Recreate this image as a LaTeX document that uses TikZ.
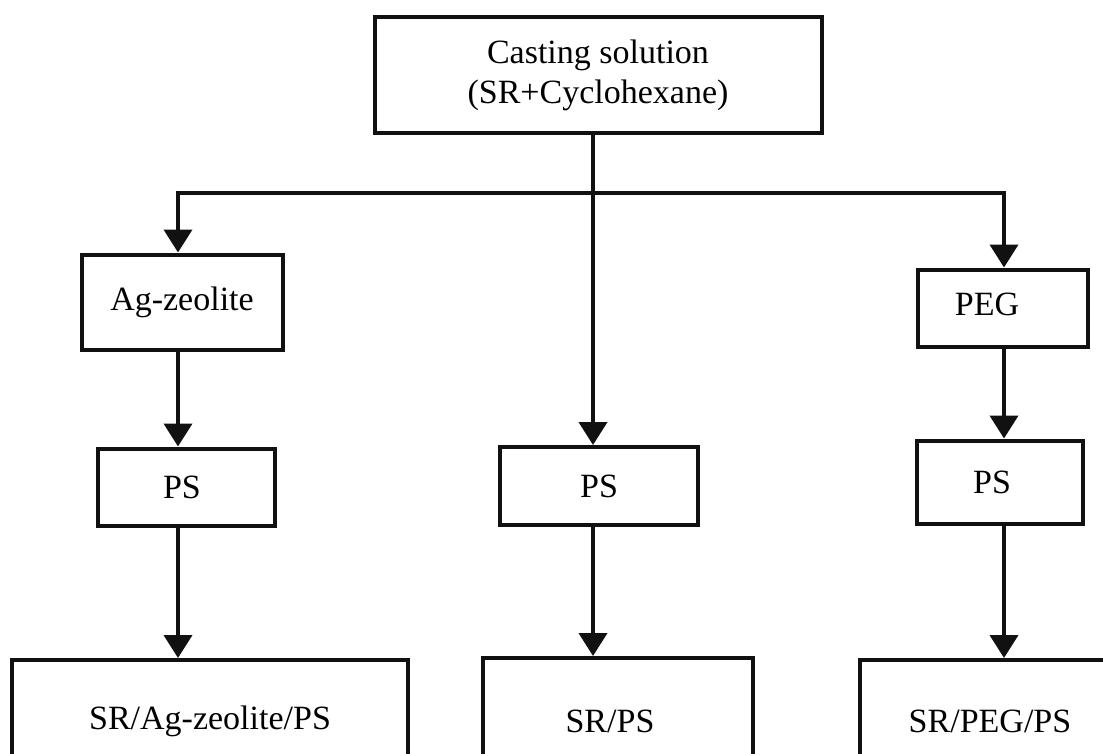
\documentclass[tikz,border=0pt]{standalone}
\usepackage{fontspec}
\setmainfont{Liberation Serif}
\usepackage{tikz}
\usetikzlibrary{arrows.meta, positioning, calc}
\definecolor{mInk}{HTML}{111111}

\begin{document}
\begin{tikzpicture}[x=1pt, y=-1pt,
    box/.style={draw=mInk, line width=4pt, fill=white, inner sep=0pt,
      align=center, font=\fontsize{34}{40}\selectfont},
    wire/.style={draw=mInk, line width=4pt},
    arr/.style={wire, -{Triangle[length=23pt, width=28pt]}}]
    \useasboundingbox (0,0) rectangle (1103,753);
    \clip (0,0) rectangle (1103,753);
    % column positions of the connectors
    \coordinate (colL) at (178,0);
    \coordinate (colR) at (1004,0);
    \coordinate (bar) at (593,193);
    % boxes
    \node[box, minimum width=447, minimum height=116] (cast) at (598,75)
      {Casting solution\\(SR+Cyclohexane)};
    \node[box, minimum width=201, minimum height=95] (agz) at (182,302) {Ag-zeolite};
    \node[box, minimum width=170, minimum height=77] (peg) at (1003,308)
      {\raisebox{8pt}{PEG}\hspace*{32pt}};
    \node[box, minimum width=177, minimum height=77] (psL) at (186,487) {PS\hspace*{8pt}};
    \node[box, minimum width=198, minimum height=78] (psC) at (599,486) {PS};
    \node[box, minimum width=166, minimum height=83] (psR) at (1000,482) {PS\hspace*{16pt}};
    \node[box, minimum width=396, minimum height=122] (outL) at (210,721) {SR/Ag-zeolite/PS};
    \node[box, minimum width=270, minimum height=126] (outC) at (618,721) {SR/PS\hspace*{16pt}};
    \node[box, minimum width=270, minimum height=122] (outR) at (995,721) {SR/PEG/PS\hspace*{10pt}};
    % branching from the casting solution
    \draw[wire] (cast.south -| bar) -- (bar);
    \draw[arr] (bar) -| (agz.north -| colL);
    \draw[arr] (bar) -- (psC.north -| bar);
    \draw[arr] (bar) -| (peg.north -| colR);
    % down each column
    \draw[arr] (agz.south -| colL) -- (psL.north -| colL);
    \draw[arr] (psL.south -| colL) -- (outL.north -| colL);
    \draw[arr] (psC.south -| bar) -- (outC.north -| bar);
    \draw[arr] (peg.south -| colR) -- (psR.north -| colR);
    \draw[arr] (psR.south -| colR) -- (outR.north -| colR);
  \end{tikzpicture}
\end{document}
